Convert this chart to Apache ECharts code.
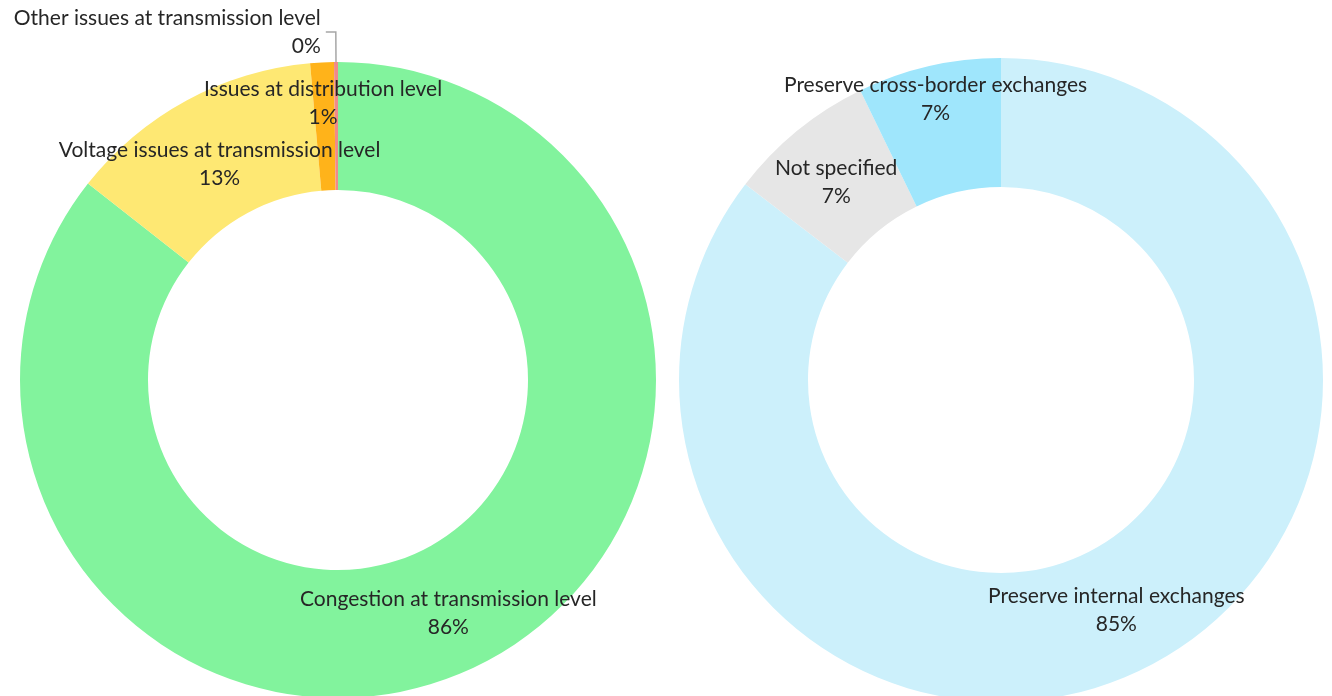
<!DOCTYPE html>
<html>
<head>
<meta charset="utf-8">
<script src="https://cdn.jsdelivr.net/npm/echarts@6/dist/echarts.min.js"></script>
<style>
  html, body { margin: 0; padding: 0; background: #fff; }
  #chart { width: 1332px; height: 696px; }
</style>
</head>
<body>
<div id="chart"></div>
<script>
// 左边：问题类型（百分比）
const issueNames = [
  "Congestion at transmission level",
  "Voltage issues at transmission level",
  "Issues at distribution level",
  "Other issues at transmission level"
];
const issueValues = [85.6, 13.0, 1.2, 0.2];
const issueColors = ["#82f39d", "#fee873", "#ffb31a", "#f08a8a"];

// 右边：目的（百分比）
const purposeNames = [
  "Preserve internal exchanges",
  "Not specified",
  "Preserve cross-border exchanges"
];
const purposeValues = [85.4, 7.4, 7.2];
const purposeColors = ["#ccf0fb", "#e6e6e6", "#9fe6fc"];

const chart = echarts.init(document.getElementById("chart"));

const labelText = (p) => p.name + "\n" + Math.round(p.percent) + "%";

const baseLabel = {
  show: true,
  position: "inside",
  formatter: labelText,
  color: "#262626",
  fontFamily: "Lato",
  fontSize: 21,
  lineHeight: 28
};

function buildData(names, values, colors) {
  return names.map((n, i) => ({
    name: n,
    value: values[i],
    itemStyle: { color: colors[i] }
  }));
}

const leftData = buildData(issueNames, issueValues, issueColors);
leftData[0].label = { offset: [-2, 2] };
leftData[1].label = { offset: [4, 10] };
leftData[2].label = { offset: [-2, -20] };
// 最小的扇区标签放在外面，带引导线
leftData[3].label = { position: "outside", align: "right" };
leftData[3].labelLine = {
  show: true,
  length: 30,
  length2: 10,
  lineStyle: { color: "#a6a6a6", width: 1.5 }
};

const rightData = buildData(purposeNames, purposeValues, purposeColors);
rightData[0].label = { offset: [0, -3] };
rightData[1].label = { offset: [0, 4] };
rightData[2].label = { offset: [-7, -27] };

const option = {
  animation: false,
  series: [
    {
      type: "pie",
      center: [338, 380],
      radius: [190, 318],
      startAngle: 90,
      clockwise: true,
      avoidLabelOverlap: false,
      label: baseLabel,
      labelLine: { show: false },
      labelLayout: { hideOverlap: false },
      emphasis: { disabled: true },
      data: leftData
    },
    {
      type: "pie",
      center: [1001, 380],
      radius: [193, 322],
      startAngle: 90,
      clockwise: true,
      avoidLabelOverlap: false,
      label: baseLabel,
      labelLine: { show: false },
      labelLayout: { hideOverlap: false },
      emphasis: { disabled: true },
      data: rightData
    }
  ]
};

chart.setOption(option);
</script>
</body>
</html>
